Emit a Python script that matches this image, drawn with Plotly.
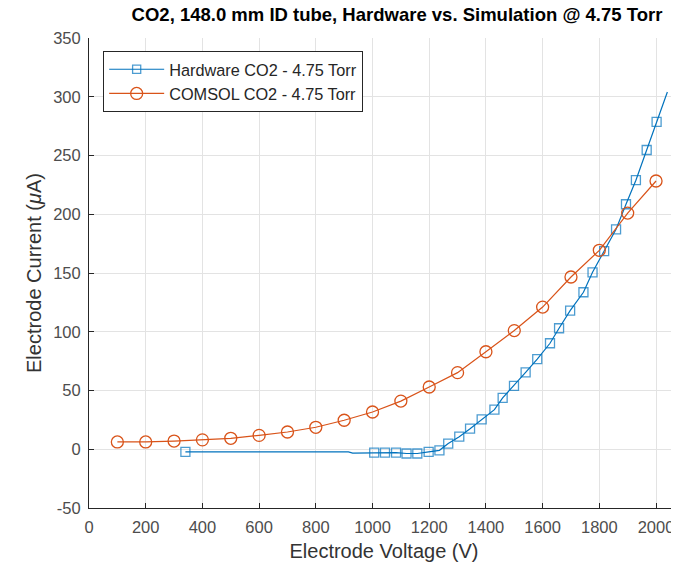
import plotly.graph_objects as go

# COMSOL simulation data
comsol_v = [100, 200, 300, 400, 500, 600, 700, 800, 900, 1000,
            1100, 1200, 1300, 1400, 1500, 1600, 1700, 1800, 1900, 2000]
comsol_i = [6.2, 6.2, 7.0, 8.0, 9.3, 11.8, 14.7, 18.7, 24.7, 31.7,
            41.0, 53.0, 65.2, 83.0, 101.0, 121.0, 146.6, 169.3, 201.0, 228.3]

# Hardware measurement data (marker flag: 1 = drawn with a marker)
hw_v = [340, 915, 930, 1006, 1044, 1083, 1120, 1158, 1198, 1236, 1267,
        1306, 1344, 1385, 1430, 1459, 1499, 1540, 1581, 1626, 1658, 1697,
        1744, 1776, 1817, 1859, 1894, 1929, 1967, 2002, 2040]
hw_i = [-2.3, -2.3, -3.3, -2.8, -2.8, -2.8, -3.6, -3.6, -2.3, -0.9, 4.8,
        10.7, 17.5, 25.5, 33.7, 43.7, 54.0, 65.4, 76.7, 90.2, 103.0, 118.0,
        133.6, 150.6, 168.7, 187.2, 208.5, 229.0, 254.7, 278.6, 304.0]
hw_marked = [1, 0, 0, 1, 1, 1, 1, 1, 1, 1, 1,
             1, 1, 1, 1, 1, 1, 1, 1, 1, 1, 1,
             1, 1, 1, 1, 1, 1, 1, 1, 0]

x_ticks = [0, 200, 400, 600, 800, 1000, 1200, 1400, 1600, 1800, 2000]
y_ticks = [-50, 0, 50, 100, 150, 200, 250, 300, 350]

BLUE = "#0072BD"
ORANGE = "#D95319"
AX = "#262626"
GRID = "#e3e3e3"
FONT = "Liberation Sans, Arial, sans-serif"

fig = go.Figure()
fig.add_trace(go.Scatter(
    x=hw_v, y=hw_i, mode="lines+markers", name="Hardware CO2 - 4.75 Torr",
    line=dict(color=BLUE, width=1.2),
    marker=dict(symbol="square-open", color=BLUE,
                size=[9 if m else 0 for m in hw_marked],
                line=dict(width=1.3, color=BLUE)),
))
fig.add_trace(go.Scatter(
    x=comsol_v, y=comsol_i, mode="lines+markers", name="COMSOL CO2 - 4.75 Torr",
    line=dict(color=ORANGE, width=1.2),
    marker=dict(symbol="circle-open", color=ORANGE, size=12,
                line=dict(width=1.3, color=ORANGE)),
))

# page body has an 8px margin, so the figure is sized to fill the rest
fig.update_layout(
    width=671, height=557,
    margin=dict(l=81, r=0, t=30, b=57),
    paper_bgcolor="white", plot_bgcolor="white",
    font=dict(family=FONT, color=AX, size=16),
    title=dict(text="<b>CO2, 148.0 mm ID tube, Hardware vs. Simulation @ 4.75 Torr</b>",
               x=0.522, xref="paper", xanchor="center",
               y=1.0, yref="container", yanchor="top",
               pad=dict(t=0, b=0, l=0, r=0),
               font=dict(size=18.5, color="#000000")),
    showlegend=True,
    legend=dict(x=0.024, y=0.972, xanchor="left", yanchor="top",
                bgcolor="white", bordercolor=AX, borderwidth=1,
                font=dict(size=16.3, color=AX), tracegroupgap=0,
                itemwidth=55),
)
fig.update_xaxes(
    range=[0, 2081], tickvals=x_ticks, ticktext=[str(v) for v in x_ticks],
    automargin=False, ticklabeloverflow="allow",
    showgrid=True, gridcolor=GRID, gridwidth=1,
    showline=True, linecolor=AX, linewidth=1, mirror=False,
    ticks="inside", ticklen=5, tickcolor=AX, zeroline=False,
    ticklabelstandoff=4,
    tickfont=dict(size=16.5, color="#4d4d4d"),
    title=dict(text="Electrode Voltage (V)", font=dict(size=20, color="#333333"), standoff=9),
)
fig.update_yaxes(
    range=[-50, 350], tickvals=y_ticks, ticktext=[str(v) for v in y_ticks],
    automargin=False,
    showgrid=True, gridcolor=GRID, gridwidth=1,
    showline=True, linecolor=AX, linewidth=1, mirror=False,
    ticks="inside", ticklen=5, tickcolor=AX, zeroline=False,
    ticklabelstandoff=4,
    tickfont=dict(size=16.5, color="#4d4d4d"),
    title=dict(text="Electrode Current (<i>μ</i>A)", font=dict(size=20, color="#333333"), standoff=6),
)

fig.write_html("out.html")
